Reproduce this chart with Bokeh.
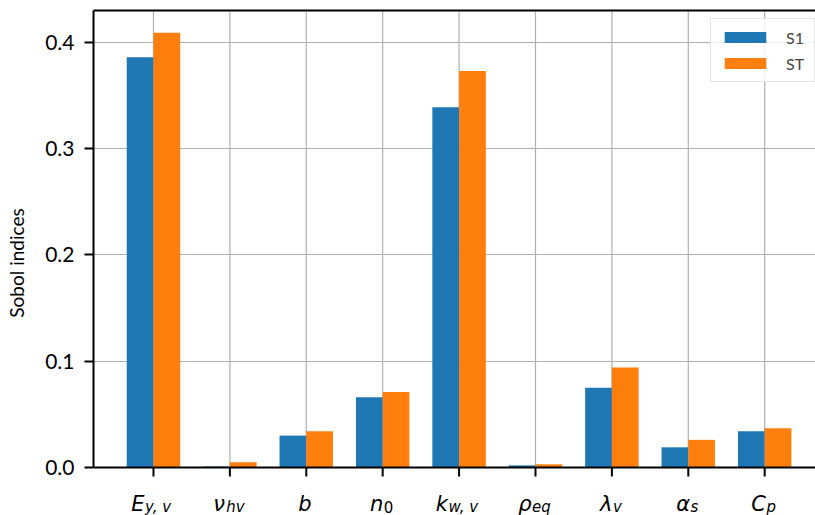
from bokeh.plotting import figure
from bokeh.models import (ColumnDataSource, FixedTicker, LinearAxis, Legend,
                          LegendItem, Range1d, PrintfTickFormatter, Span)
from bokeh.transform import dodge
from bokeh.core.properties import value
from bokeh.embed import file_html
from bokeh.resources import INLINE

# Parameter symbols (main letter and subscript) and their Sobol indices
param_main = ["E", "ν", "b", "n", "k", "ρ", "λ", "α", "C"]
param_sub = ["y, v", "hv", "", "0", "w, v", "eq", "v", "s", "p"]
s1 = [0.386, 0.001, 0.030, 0.066, 0.339, 0.002, 0.075, 0.019, 0.034]
st = [0.409, 0.005, 0.034, 0.071, 0.373, 0.003, 0.094, 0.026, 0.037]
y_ticks = [0.0, 0.1, 0.2, 0.3, 0.4]

BLUE = "#1f77b4"
ORANGE = "#ff7f0e"
GRID = "#b0b0b0"
BAR_W = 0.35
Y_TOP = 0.43

W, H = 815, 515
FRAME_L, FRAME_T = 93, 10
AXIS_Y = 467                      # canvas row of the zero line
px_per_unit = (AXIS_Y - FRAME_T) / Y_TOP
y_start = -(H - AXIS_Y) / px_per_unit   # room under zero for the symbols

idx = list(range(len(param_main)))
source = ColumnDataSource(dict(idx=idx, s1=s1, st=st))

p = figure(width=W, height=H, output_backend="svg", toolbar_location=None,
           x_range=Range1d(-0.785, 8.665), y_range=Range1d(y_start, Y_TOP),
           x_axis_location=None,
           min_border_left=FRAME_L, min_border_right=0,
           min_border_top=FRAME_T, min_border_bottom=0)
p.outline_line_color = None
p.background_fill_color = "white"
p.xgrid.visible = False

# vertical grid lines, from zero up to the top spine
p.segment(x0="idx", x1="idx", y0=0, y1=Y_TOP, source=source,
          line_color=GRID, line_width=1.2, level="underlay")

r1 = p.vbar(x=dodge("idx", -BAR_W / 2, range=p.x_range), top="s1", width=BAR_W,
            source=source, color=BLUE, line_color=None)
r2 = p.vbar(x=dodge("idx", BAR_W / 2, range=p.x_range), top="st", width=BAR_W,
            source=source, color=ORANGE, line_color=None)

# x axis: zero line plus outward ticks
p.add_layout(Span(location=0, dimension="width", line_color="black", line_width=2))
p.segment(x0="idx", x1="idx", y0=0, y1=-9 / px_per_unit, source=source,
          line_color="black", line_width=2)

# y axis
yax = p.yaxis[0]
yax.bounds = (0, Y_TOP)
yax.axis_line_width = 2
yax.axis_line_color = "black"
yax.major_tick_line_width = 2
yax.major_tick_out = 9
yax.major_tick_in = 0
yax.minor_tick_line_color = None
yax.ticker = FixedTicker(ticks=y_ticks)
yax.formatter = PrintfTickFormatter(format="%.1f")
yax.major_label_text_font = "Lato"
yax.major_label_text_font_size = "21px"
yax.major_label_text_color = "black"
yax.major_label_standoff = 10
yax.axis_label = "Sobol indices"
yax.axis_label_text_font = "Lato"
yax.axis_label_text_font_style = "normal"
yax.axis_label_text_font_size = "19px"
yax.axis_label_text_color = "black"
yax.axis_label_standoff = 14

# top spine
top = LinearAxis(major_label_text_font_size="0px", major_tick_line_color=None,
                 minor_tick_line_color=None, axis_line_width=2, axis_line_color="black",
                 ticker=FixedTicker(ticks=[]))
p.add_layout(top, "above")

p.ygrid.ticker = FixedTicker(ticks=y_ticks)
p.ygrid.grid_line_color = GRID
p.ygrid.grid_line_width = 1.2

# Math-style category symbols: italic letter with a smaller subscript
ADV = {"E": 0.632, "ν": 0.592, "b": 0.635, "n": 0.634, "k": 0.579, "ρ": 0.635,
       "λ": 0.592, "α": 0.659, "C": 0.698, "y": 0.592, "v": 0.592, ",": 0.318,
       " ": 0.40, "h": 0.634, "w": 0.818, "e": 0.615, "q": 0.635, "s": 0.521,
       "p": 0.635, "0": 0.636}
MAIN_PX, SUB_PX = 21, 15
main_off, sub_off = [], []
for m, s in zip(param_main, param_sub):
    mw = ADV[m] * MAIN_PX + 0.5
    sw = sum(ADV[c] for c in s) * SUB_PX
    main_off.append(-(mw + sw) / 2 - 1)
    sub_off.append(-(mw + sw) / 2 - 1 + mw)

lab_main = ColumnDataSource(dict(x=idx, text=param_main, off=main_off))
p.text(x="x", y=-36 / px_per_unit, text="text", x_offset="off", source=lab_main,
       text_align="left", text_baseline="alphabetic", text_font=value("DejaVu Sans"),
       text_font_style="italic", text_font_size=f"{MAIN_PX}px", text_color="black")

sub_rows = [(i, s, o) for i, s, o in zip(idx, param_sub, sub_off) if s]
italic_sub = [r for r in sub_rows if not r[1].isdigit()]
upright_sub = [r for r in sub_rows if r[1].isdigit()]
for rows, style in ((italic_sub, "italic"), (upright_sub, "normal")):
    src = ColumnDataSource(dict(x=[r[0] for r in rows], text=[r[1] for r in rows],
                                off=[r[2] for r in rows]))
    p.text(x="x", y=-39 / px_per_unit, text="text", x_offset="off", source=src,
           text_align="left", text_baseline="alphabetic", text_font=value("DejaVu Sans"),
           text_font_style=style, text_font_size=f"{SUB_PX}px", text_color="black")

legend = Legend(items=[LegendItem(label="S1", renderers=[r1]),
                       LegendItem(label="ST", renderers=[r2])],
                location=(617, H - 82),
                margin=0, padding=8, spacing=6,
                glyph_width=52, glyph_height=14, label_height=20, label_standoff=15,
                label_text_font="Lato", label_text_font_size="16px",
                border_line_color="#cccccc", border_line_width=1.5,
                background_fill_alpha=0.85)
p.add_layout(legend)

open("out.html", "w").write(file_html(p, INLINE))
